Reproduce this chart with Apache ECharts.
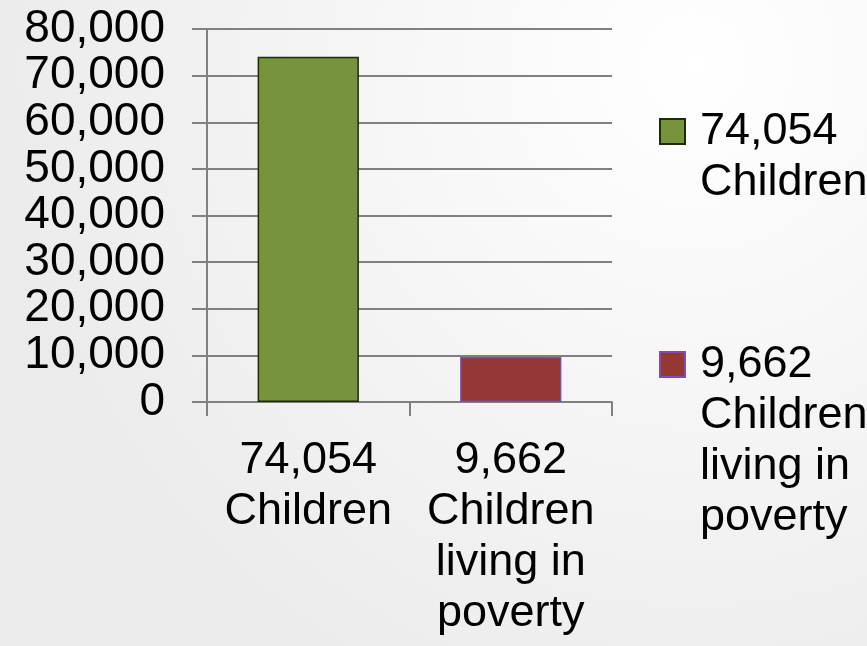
<!DOCTYPE html>
<html>
<head>
<meta charset="utf-8">
<script src="https://cdn.jsdelivr.net/npm/echarts@6/dist/echarts.min.js"></script>
<style>
  html, body { margin: 0; padding: 0; }
  #chart { width: 867px; height: 646px; }
</style>
</head>
<body>
<div id="chart"></div>
<script>
// Category labels (also used as series / legend names)
const categories = ['74,054\nChildren', '9,662\nChildren\nliving in\npoverty'];
// Counts per category
const childCounts = [74054, 9662];
// Value axis ticks
const yTicks = [0, 10000, 20000, 30000, 40000, 50000, 60000, 70000, 80000];

const barColors = ['#77933C', '#953735'];
const barBorders = ['#1c2b0c', '#7a4fb0'];
const FONT = '"Liberation Sans", Arial, sans-serif';
const LINE_H = 51;

// One series per category so each gets its own colour and legend entry
const series = categories.map((name, i) => ({
  type: 'bar',
  name: name,
  stack: 'all',
  barWidth: '50%',
  data: childCounts.map((v, j) => (j === i ? v : null)),
  itemStyle: { color: barColors[i], borderColor: barBorders[i], borderWidth: 1.5 }
}));

// Legend entries: blank lines above the name keep the icon level with the first text line
function legendFor(i, top) {
  const lines = categories[i].split('\n').length;
  return {
    orient: 'vertical',
    left: 659,
    top: top,
    padding: 0,
    itemWidth: 25,
    itemHeight: 25,
    icon: 'rect',
    data: [categories[i]],
    formatter: name => '\n'.repeat(lines - 1) + name,
    textStyle: {
      fontFamily: FONT,
      fontSize: 45,
      color: '#000',
      lineHeight: LINE_H,
      padding: [0, 0, 0, 10]
    }
  };
}

const chart = echarts.init(document.getElementById('chart'));
chart.setOption({
  animation: false,
  backgroundColor: {
    type: 'radial', x: 0.8, y: 0.1, r: 1.1,
    colorStops: [
      { offset: 0, color: '#ffffff' },
      { offset: 1, color: '#ebebeb' }
    ]
  },
  grid: { left: 207, right: 255, top: 29, bottom: 244 },
  legend: [legendFor(0, 55), legendFor(1, 186)],
  xAxis: {
    type: 'category',
    data: categories,
    axisLine: { lineStyle: { color: '#808080', width: 2 } },
    axisTick: { show: true, length: 14, lineStyle: { color: '#808080', width: 2 } },
    axisLabel: {
      margin: 33,
      fontFamily: FONT,
      fontSize: 45,
      lineHeight: LINE_H,
      color: '#000',
      interval: 0
    }
  },
  yAxis: {
    type: 'value',
    min: yTicks[0],
    max: yTicks[yTicks.length - 1],
    interval: yTicks[1] - yTicks[0],
    axisLine: { show: true, lineStyle: { color: '#808080', width: 2 } },
    axisTick: { show: true, length: 15, lineStyle: { color: '#808080', width: 2 } },
    splitLine: { lineStyle: { color: '#808080', width: 2 } },
    axisLabel: {
      margin: 42,
      fontFamily: FONT,
      fontSize: 46,
      color: '#000',
      formatter: v => v.toLocaleString('en-US')
    }
  },
  series: series
});
</script>
</body>
</html>
